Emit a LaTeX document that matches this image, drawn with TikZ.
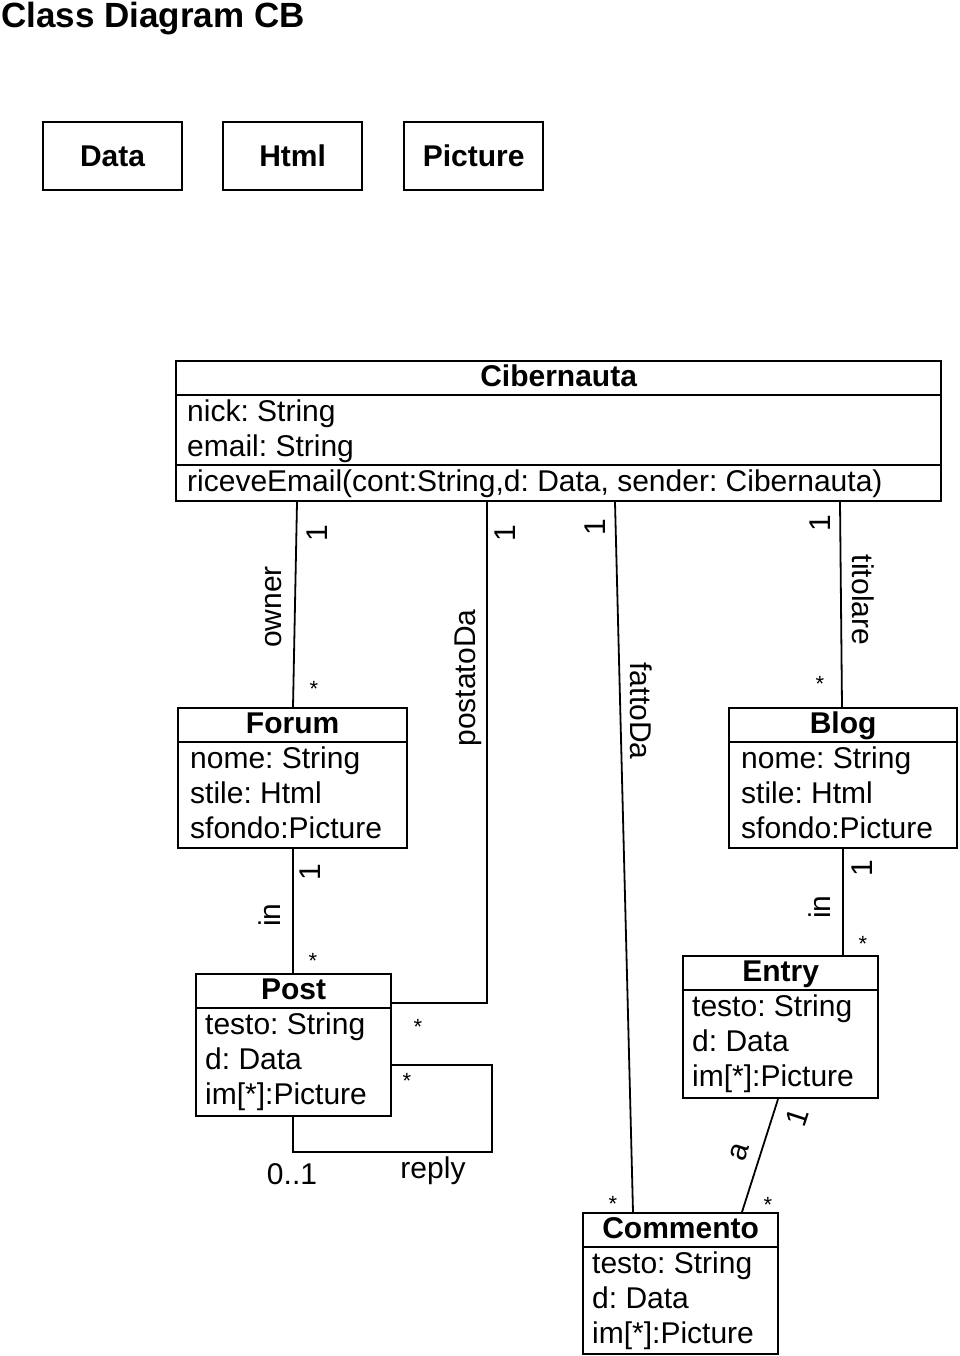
\documentclass[tikz,border=0pt]{standalone}
\usepackage{fontspec}
\setmainfont{Liberation Sans}
\usetikzlibrary{calc}
\begin{document}
\frenchspacing
\begin{tikzpicture}[x=1pt,y=-1pt,
  box/.style={draw, line width=2.2pt, inner sep=0pt, anchor=north west},
  sepline/.style={line width=2.2pt},
  conn/.style={line width=1.8pt},
  txt/.style={inner sep=0pt, font=\fontsize{30}{35}\selectfont},
  hdr/.style={inner sep=0pt, font=\fontsize{30}{35}\selectfont\bfseries, anchor=base},
  attr/.style={txt, anchor=base west},
  lbl/.style={txt, anchor=center},
  star/.style={inner sep=0pt, font=\fontsize{22}{24}\selectfont, anchor=center}
]
\useasboundingbox (0,0) rectangle (960,1356);

% title
\node[inner sep=0pt, font=\fontsize{35}{40}\selectfont\bfseries, anchor=base west] (title) at (1,28) {Class Diagram CB};

% simple boxes
\node[box, font=\fontsize{30}{35}\selectfont\bfseries, minimum width=139pt, minimum height=68pt] (data) at (42,121) {Data};
\node[box, font=\fontsize{30}{35}\selectfont\bfseries, minimum width=139pt, minimum height=68pt] (html) at (222,121) {Html};
\node[box, font=\fontsize{30}{35}\selectfont\bfseries, minimum width=139pt, minimum height=68pt] (picture) at (403,121) {Picture};

% Cibernauta
\node[box, minimum width=765pt, minimum height=140pt] (cib) at (175,360) {};
\draw[sepline] ($(cib.north west)+(0,35)$) -- ($(cib.north east)+(0,35)$);
\draw[sepline] ($(cib.north west)+(0,105)$) -- ($(cib.north east)+(0,105)$);
\node[hdr] (cibT) at ($(cib.north)+(0,26)$) {Cibernauta};
\node[attr] (cibA1) at ($(cib.north west)+(12,61)$) {nick: String};
\node[attr] (cibA2) at ($(cib.north west)+(12,96)$) {email: String};
\node[attr] (cibM1) at ($(cib.north west)+(12,131)$) {riceveEmail(cont:String,d: Data, sender: Cibernauta)};

% Forum
\node[box, minimum width=229pt, minimum height=140pt] (forum) at (177,707) {};
\draw[sepline] ($(forum.north west)+(0,35)$) -- ($(forum.north east)+(0,35)$);
\node[hdr] (forumT) at ($(forum.north)+(0,26)$) {Forum};
\node[attr] (forumA1) at ($(forum.north west)+(13,61)$) {nome: String};
\node[attr] (forumA2) at ($(forum.north west)+(13,96)$) {stile: Html};
\node[attr] (forumA3) at ($(forum.north west)+(13,131)$) {sfondo:Picture};

% Blog
\node[box, minimum width=228pt, minimum height=140pt] (blog) at (728,707) {};
\draw[sepline] ($(blog.north west)+(0,35)$) -- ($(blog.north east)+(0,35)$);
\node[hdr] (blogT) at ($(blog.north)+(0,26)$) {Blog};
\node[attr] (blogA1) at ($(blog.north west)+(13,61)$) {nome: String};
\node[attr] (blogA2) at ($(blog.north west)+(13,96)$) {stile: Html};
\node[attr] (blogA3) at ($(blog.north west)+(13,131)$) {sfondo:Picture};

% Post
\node[box, minimum width=195pt, minimum height=142pt] (post) at (195,973) {};
\draw[sepline] ($(post.north west)+(0,35)$) -- ($(post.north east)+(0,35)$);
\node[hdr] (postT) at ($(post.north)+(0,26)$) {Post};
\node[attr] (postA1) at ($(post.north west)+(10,61)$) {testo: String};
\node[attr] (postA2) at ($(post.north west)+(10,96)$) {d: Data};
\node[attr] (postA3) at ($(post.north west)+(10,131)$) {im[*]:Picture};

% Entry
\node[box, minimum width=195pt, minimum height=142pt] (entry) at (682,955) {};
\draw[sepline] ($(entry.north west)+(0,35)$) -- ($(entry.north east)+(0,35)$);
\node[hdr] (entryT) at ($(entry.north)+(0,26)$) {Entry};
\node[attr] (entryA1) at ($(entry.north west)+(10,61)$) {testo: String};
\node[attr] (entryA2) at ($(entry.north west)+(10,96)$) {d: Data};
\node[attr] (entryA3) at ($(entry.north west)+(10,131)$) {im[*]:Picture};

% Commento
\node[box, minimum width=195pt, minimum height=141pt] (commento) at (582,1212) {};
\draw[sepline] ($(commento.north west)+(0,35)$) -- ($(commento.north east)+(0,35)$);
\node[hdr] (commentoT) at ($(commento.north)+(0,26)$) {Commento};
\node[attr] (commentoA1) at ($(commento.north west)+(10,61)$) {testo: String};
\node[attr] (commentoA2) at ($(commento.north west)+(10,96)$) {d: Data};
\node[attr] (commentoA3) at ($(commento.north west)+(10,131)$) {im[*]:Picture};

% connectors
\draw[conn] ($(cib.south west)+(122,0)$) -- ($(forum.north west)+(116,0)$);
\draw[conn] ($(cib.south west)+(312,0)$) |- ($(post.north east)+(0,30)$);
\draw[conn] ($(cib.south west)+(440,0)$) -- ($(commento.north west)+(51,0)$);
\draw[conn] ($(cib.south west)+(665,0)$) -- ($(blog.north west)+(114,0)$);
\draw[conn] ($(forum.south west)+(116,0)$) -- ($(post.north west)+(98,0)$);
\draw[conn] ($(blog.south west)+(115,0)$) -- ($(entry.north west)+(161,0)$);
\draw[conn] ($(entry.south west)+(96,0)$) -- ($(commento.north west)+(160,0)$);
\draw[conn] ($(post.north east)+(0,92)$) -- ++(100,0) -- ++(0,87) -| ($(post.south west)+(98,0)$);

% labels: owner
\node[lbl, rotate=90] (m1) at (317,533) {1};
\node[lbl, rotate=90] (lowner) at (274,607) {owner};
\node[star] (s1) at (314,689) {*};
% postatoDa
\node[lbl, rotate=90] (m2) at (505,533) {1};
\node[lbl, rotate=90] (lpost) at (468,678) {postatoDa};
\node[star] (s2) at (418,1027) {*};
% fattoDa
\node[lbl, rotate=90] (m3) at (595,527) {1};
\node[lbl, rotate=-90] (lfatto) at (641,711) {fattoDa};
\node[star] (s3) at (613,1204) {*};
% titolare
\node[lbl, rotate=90] (m4) at (820,523) {1};
\node[lbl, rotate=-90] (ltit) at (863,600) {titolare};
\node[star] (s4) at (820,684) {*};
% Forum-Post in
\node[lbl, rotate=90] (m5) at (310,872) {1};
\node[lbl, rotate=90] (lin1) at (270,915) {in};
\node[star] (s5) at (313,961) {*};
% Blog-Entry in
\node[lbl, rotate=90] (m6) at (862,868) {1};
\node[lbl, rotate=90] (lin2) at (820,907) {in};
\node[star] (s6) at (863,944) {*};
% Entry-Commento a
\node[lbl, rotate=72] (m7) at (797,1117) {1};
\node[lbl, rotate=72] (la) at (740,1152) {a};
\node[star] (s7) at (768,1205) {*};
% reply
\node[star] (s8) at (407,1081) {*};
\node[lbl] (l01) at (292,1174) {0..1};
\node[lbl] (lreply) at (433,1171) {reply};
\end{tikzpicture}
\end{document}
